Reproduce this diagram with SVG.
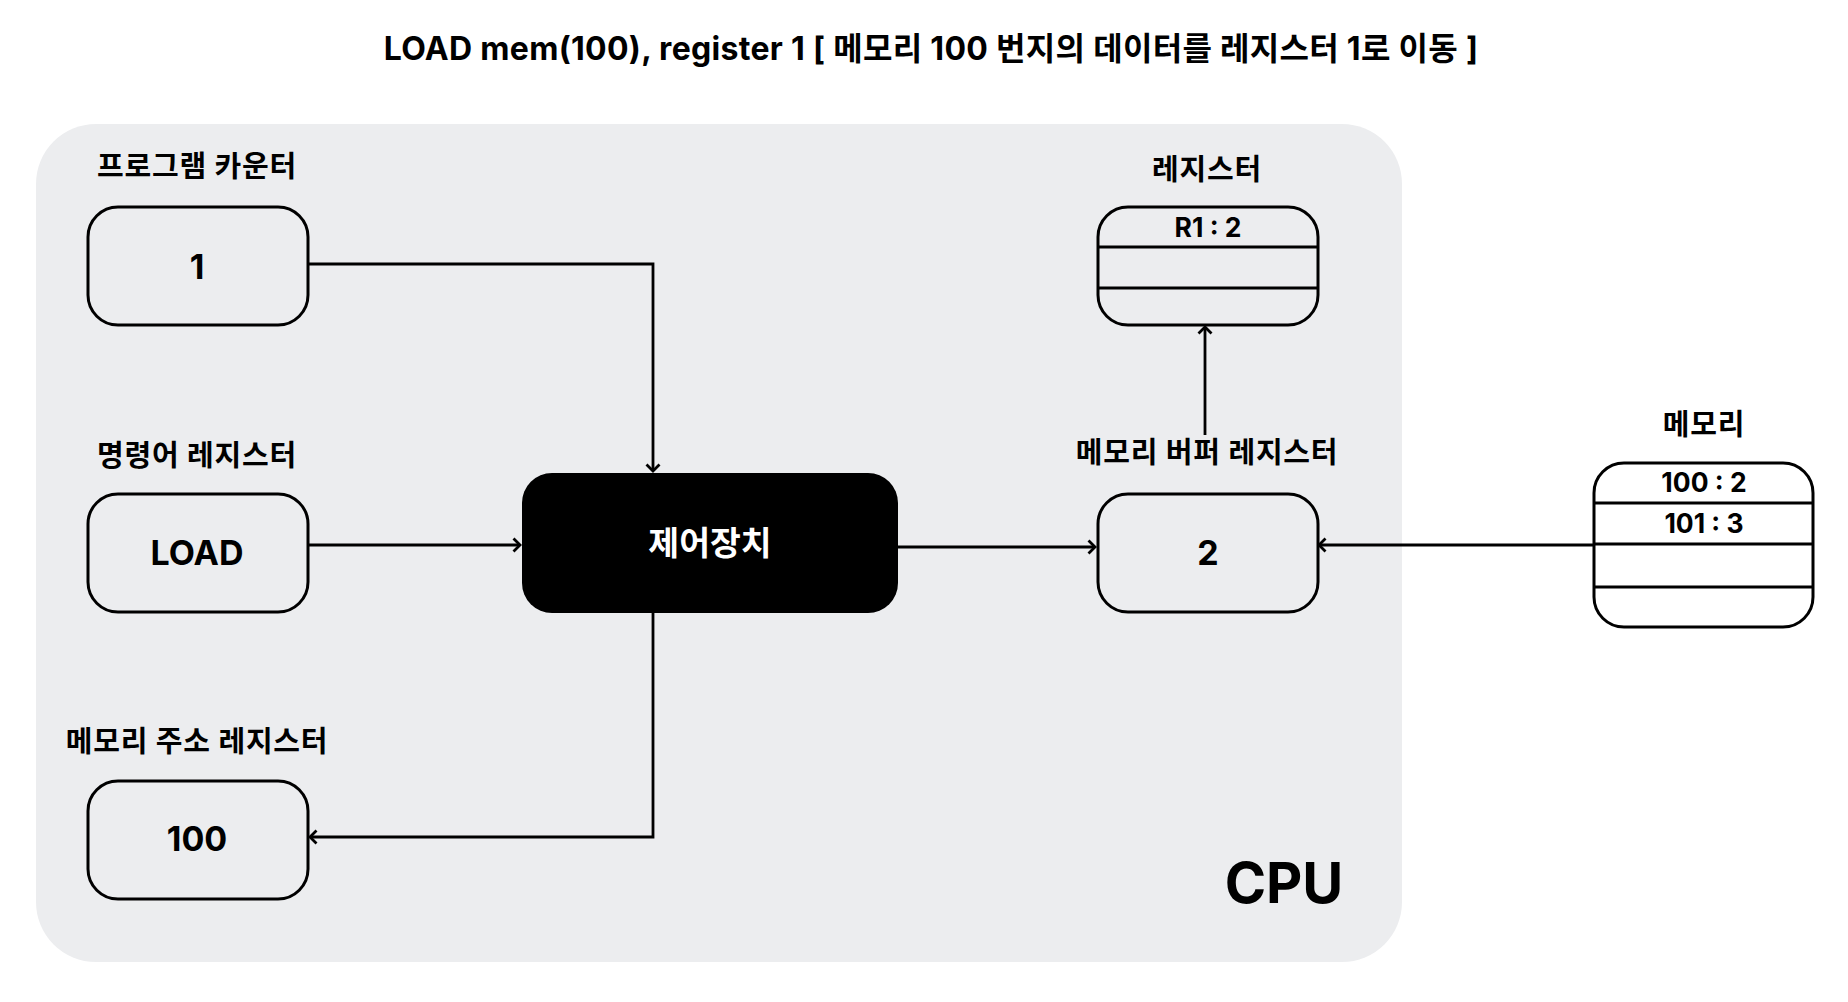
<svg xmlns="http://www.w3.org/2000/svg" width="1848" height="1002" viewBox="0 0 1848 1002">
<style>
  text { font-family: Inter, "Noto Sans CJK KR", "Noto Sans", sans-serif; font-weight: 700; fill: #000; }
  .title { font-size: 32px; letter-spacing: 0.3px; }
  .label { font-size: 29px; letter-spacing: 0.8px; text-anchor: middle; }
  .val { font-size: 34px; text-anchor: middle; }
  .cell { font-size: 26.5px; text-anchor: middle; }
  .box { fill: none; stroke: #000; stroke-width: 3; }
  .wbox { fill: #fff; stroke: #000; stroke-width: 3; }
  .div { stroke: #000; stroke-width: 3; }
  .conn { fill: none; stroke: #000; stroke-width: 2.8; marker-end: url(#arrow); }
</style>
<defs>
  <marker id="arrow" markerUnits="userSpaceOnUse" markerWidth="14" markerHeight="16" refX="9" refY="7" orient="auto" viewBox="0 0 14 14">
    <path d="M2.5,0.5 L9,7 L2.5,13.5" fill="none" stroke="#000" stroke-width="2.8"/>
  </marker>
</defs>
<rect width="1848" height="1002" fill="#fff"/>
<text class="title" x="931" y="60" text-anchor="middle">LOAD mem(100), register 1 [ 메모리 100 번지의 데이터를 레지스터 1로 이동 ]</text>

<g id="cpu">
  <rect x="36" y="124" width="1366" height="838" rx="60" ry="60" fill="#ECEDEF"/>
  <text x="1284" y="903" text-anchor="middle" style="font-size:56px">CPU</text>
</g>

<g id="connectors">
  <path class="conn" d="M308,264 H653 V471"/>
  <path class="conn" d="M308,545 H520"/>
  <path class="conn" d="M898,547 H1095"/>
  <path class="conn" d="M1594,545 H1319"/>
  <path class="conn" d="M1205,435 V327"/>
  <path class="conn" d="M653,613 V837 H310"/>
</g>

<g id="program-counter">
  <text class="label" x="197" y="177">프로그램 카운터</text>
  <rect class="box" x="88" y="207" width="220" height="118" rx="30"/>
  <text class="val" x="197" y="279">1</text>
</g>

<g id="instruction-register">
  <text class="label" x="197" y="466">명령어 레지스터</text>
  <rect class="box" x="88" y="494" width="220" height="118" rx="30"/>
  <text class="val" x="197" y="565">LOAD</text>
</g>

<g id="memory-address-register">
  <text class="label" x="197" y="752">메모리 주소 레지스터</text>
  <rect class="box" x="88" y="781" width="220" height="118" rx="30"/>
  <text class="val" x="197" y="851">100</text>
</g>

<g id="control-unit">
  <rect x="522" y="473" width="376" height="140" rx="30" fill="#000"/>
  <text x="710" y="555" text-anchor="middle" style="font-size:33.5px; fill:#fff">제어장치</text>
</g>

<g id="register">
  <text class="label" x="1207" y="180">레지스터</text>
  <rect class="box" x="1098" y="207" width="220" height="118" rx="30"/>
  <line class="div" x1="1098" y1="247" x2="1318" y2="247"/>
  <line class="div" x1="1098" y1="288" x2="1318" y2="288"/>
  <text class="cell" x="1208" y="237">R1 : 2</text>
</g>

<g id="memory-buffer-register">
  <text class="label" x="1207" y="463">메모리 버퍼 레지스터</text>
  <rect class="box" x="1098" y="494" width="220" height="118" rx="30"/>
  <text class="val" x="1208" y="565">2</text>
</g>

<g id="memory">
  <text class="label" x="1704" y="435">메모리</text>
  <rect class="wbox" x="1594" y="463" width="219" height="164" rx="30"/>
  <line class="div" x1="1594" y1="503" x2="1813" y2="503"/>
  <line class="div" x1="1594" y1="544" x2="1813" y2="544"/>
  <line class="div" x1="1594" y1="587" x2="1813" y2="587"/>
  <text class="cell" x="1704" y="492">100 : 2</text>
  <text class="cell" x="1704" y="533">101 : 3</text>
</g>
</svg>
